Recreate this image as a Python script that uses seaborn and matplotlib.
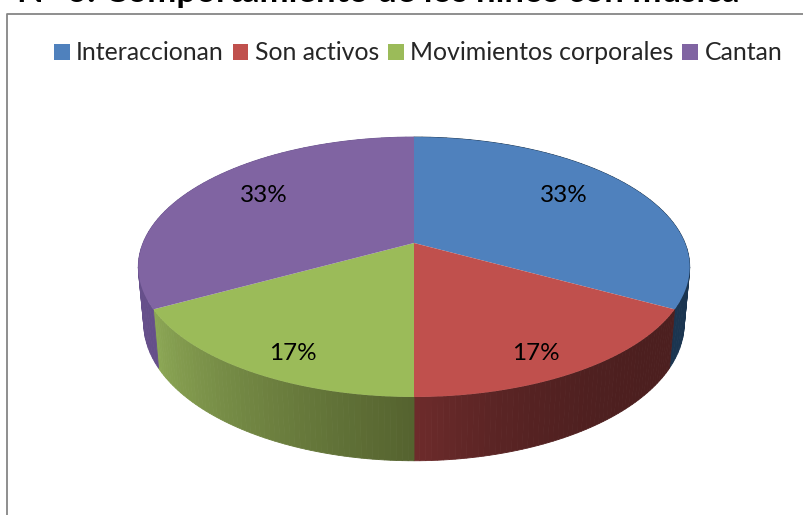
import numpy as np
import matplotlib
matplotlib.use('Agg')
import matplotlib.pyplot as plt
import seaborn as sns
from matplotlib.lines import Line2D
from matplotlib.path import Path
from matplotlib.transforms import Affine2D, Transform

labels = ['Interaccionan', 'Son activos', 'Movimientos corporales', 'Cantan']
values = [33, 17, 17, 33]
title = 'N° 6: Comportamiento de los niños con música'
colors = ['#4F81BD', '#C0504D', '#9BBB59', '#8064A2']
# wall shade of each slice, at its start and end (going clockwise)
wall_start = ['#1B3550', '#4C1F1F', '#55632F', '#654F8A']
wall_end = ['#1B3550', '#6D2B2B', '#8CA755', '#6D568F']
wall_gamma = [1, 3, 1, 1]

sns.set_theme(style='white')
plt.rcParams['font.family'] = ['Lato', 'DejaVu Sans']

CX, CY, R = 414, 243, 271
TILT_A, TILT_C = -80.7, 0.1846


# the office style tilted pie: circle seen in perspective, in pixels
def project(xy):
    x, y = xy[:, 0], xy[:, 1]
    w = 1 + TILT_C * y
    return np.column_stack([CX + R * x / w, (CY + TILT_A * y) / w])


class Tilt(Transform):
    input_dims = 2
    output_dims = 2
    is_affine = False

    def transform_non_affine(self, values):
        return project(np.asarray(values, float))

    def transform_path_non_affine(self, path):
        poly = path.transformed(Affine2D().scale(500)).to_polygons()[0] / 500
        return Path(project(poly), closed=True)


fig = plt.figure(figsize=(8.04, 5.15), dpi=100)
ax = fig.add_axes([0, 0, 1, 1])

wedges, _, pcts = ax.pie(values, colors=colors, startangle=90, counterclock=False,
                         autopct='%.0f%%', textprops={'fontsize': 17.5, 'color': 'black'})
ax.set_aspect('auto')
ax.set_xlim(0, 804)
ax.set_ylim(515, 0)
ax.axis('off')

tilt = Tilt() + ax.transData
for w in wedges:
    w.set_transform(tilt)
    w.set_zorder(3)
    w.set_linewidth(0)

# side wall, strips between the top rim and the bottom rim
for w, c0, c1, g in zip(wedges, wall_start, wall_end, wall_gamma):
    a, b = sorted([w.theta1, w.theta2])
    angles = np.linspace(b, a, 60)
    rgb0, rgb1 = np.array(matplotlib.colors.to_rgb(c0)), np.array(matplotlib.colors.to_rgb(c1))
    unit = np.column_stack([np.cos(np.radians(angles)), np.sin(np.radians(angles))])
    top = project(unit)
    bottom = np.column_stack([CX + 0.98 * (top[:, 0] - CX), CY + 1.057 * (top[:, 1] - CY) + 55])
    for i in range(len(angles) - 1):
        f = (i / (len(angles) - 2)) ** g
        col = rgb0 + (rgb1 - rgb0) * f
        ax.fill([top[i, 0], top[i + 1, 0], bottom[i + 1, 0], bottom[i, 0]],
                [top[i, 1], top[i + 1, 1], bottom[i + 1, 1], bottom[i, 1]],
                color=col, lw=0.6, zorder=2)

# percent labels, placed near the middle of each slice
pct_radius = [0.724, 0.85, 0.85, 0.724]
pct_shift = [4, -3.6, 3.6, -4]
for w, t, r, s in zip(wedges, pcts, pct_radius, pct_shift):
    mid = np.radians((w.theta1 + w.theta2) / 2 + s)
    px = project(np.array([[r * np.cos(mid), r * np.sin(mid)]]))[0]
    t.set_position(px)
    t.set_zorder(5)

# chart frame
ax.add_line(Line2D([7, 7, 804], [515, 13.5, 13.5], color='#868686', lw=1.3, zorder=1))

ax.text(378, 2.5, title, ha='center', va='baseline', fontsize=25, fontweight='bold', color='black')

ax.legend(wedges, labels, ncols=4, loc='center', bbox_to_anchor=(418 / 804, 1 - 53 / 515),
          frameon=False, fontsize=17.9, handlelength=0.64, handleheight=0.64,
          handletextpad=0.25, columnspacing=0.36, borderpad=0)

fig.savefig('out.png', dpi=100)
